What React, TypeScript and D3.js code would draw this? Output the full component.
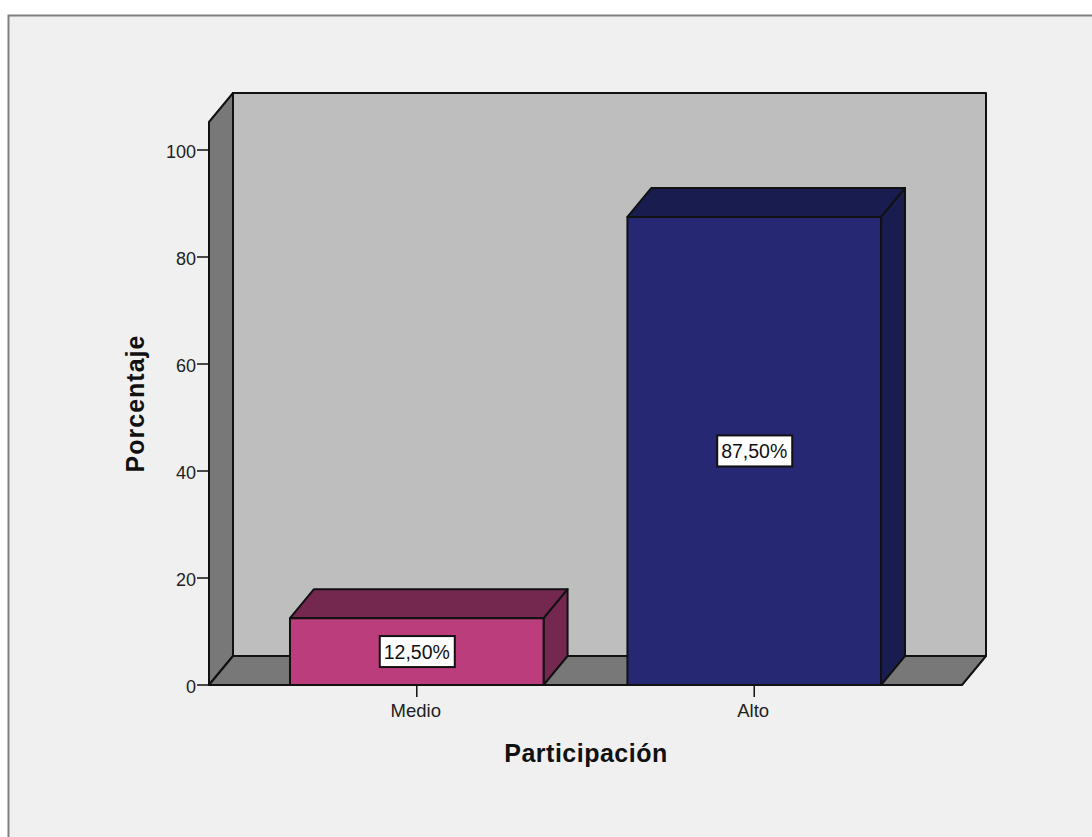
import React from "react";
import * as d3 from "d3";

const categories = ["Medio", "Alto"];
const values = [12.5, 87.5];
const valueLabels = ["12,50%", "87,50%"];
const yTicks = [0, 20, 40, 60, 80, 100];
const barFront = ["#bb3d7c", "#262873"];
const barDark = ["#74284f", "#191c4f"];
const xTitle = "Participación";
const yTitle = "Porcentaje";

const W = 1092, H = 837;
const left = 209, right = 962, floorY = 685, dx = 24, dy = 29, wallTop = 122;
const FONT = "'Liberation Sans', Arial, sans-serif";
const INK = "#111";

export default function App() {
  const y = d3.scaleLinear().domain([0, 100]).range([floorY, 150]);
  const x = d3.scaleBand<string>().domain(categories).range([left, right]).paddingInner(0.2485).paddingOuter(0.24);
  const poly = (pts: [number, number][]) => d3.line()(pts) + "Z";
  return (
    <svg width={W} height={H} viewBox={`0 0 ${W} ${H}`}
      style={{ position: "fixed", left: 0, top: 0, background: "#fff", display: "block" }}>
      <rect x={8} y={15} width={W - 8} height={H - 15} fill="#f0f0f0" />
      <path d={`M8.5 ${H}V15.5H${W}`} fill="none" stroke="#808080" strokeWidth={2} />
      <g stroke={INK} strokeWidth={2} strokeLinejoin="round">
        <rect x={left + dx} y={wallTop - dy} width={right - left} height={floorY - wallTop} fill="#bebebe" />
        <path d={poly([[left, floorY], [left + dx, floorY - dy], [left + dx, wallTop - dy], [left, wallTop]])} fill="#787878" />
        <path d={poly([[left, floorY], [left + dx, floorY - dy], [right + dx, floorY - dy], [right, floorY]])} fill="#787878" />
      </g>
      {categories.map((c, i) => {
        const x0 = x(c)!, x1 = x0 + x.bandwidth(), top = y(values[i]);
        return (
          <g key={c} stroke={INK} strokeWidth={2} strokeLinejoin="round">
            <path d={poly([[x1, top], [x1 + dx, top - dy], [x1 + dx, floorY - dy], [x1, floorY]])} fill={barDark[i]} />
            <path d={poly([[x0, top], [x0 + dx, top - dy], [x1 + dx, top - dy], [x1, top]])} fill={barDark[i]} />
            <rect x={x0} y={top} width={x.bandwidth()} height={floorY - top} fill={barFront[i]} />
          </g>
        );
      })}
      <line x1={left} x2={right} y1={floorY} y2={floorY} stroke={INK} strokeWidth={2} />
      {yTicks.map(t => (
        <g key={t}>
          <line x1={197} x2={left} y1={y(t)} y2={y(t)} stroke={INK} strokeWidth={1.5} />
          <text x={196} y={y(t) + 8} textAnchor="end" fontFamily={FONT} fontSize={18} fill="#222">{t}</text>
        </g>
      ))}
      {categories.map(c => {
        const cx = x(c)! + x.bandwidth() / 2;
        return (
          <g key={c}>
            <line x1={cx} x2={cx} y1={floorY} y2={697} stroke={INK} strokeWidth={1.5} />
            <text x={cx - 1} y={717} textAnchor="middle" fontFamily={FONT} fontSize={18.5} fill="#222">{c}</text>
          </g>
        );
      })}
      {categories.map((c, i) => {
        const cx = x(c)! + x.bandwidth() / 2;
        const cy = (y(values[i]) + floorY) / 2;
        return (
          <g key={c}>
            <rect x={cx - 37} y={cy - 15.5} width={75} height={31} fill="#fff" stroke={INK} strokeWidth={2} />
            <text x={cx} y={cy + 7} textAnchor="middle" fontFamily={FONT} fontSize={19.5} fill="#111">{valueLabels[i]}</text>
          </g>
        );
      })}
      <text x={586} y={762} textAnchor="middle" fontFamily={FONT} fontSize={25} fontWeight={700} fill="#111" letterSpacing={0.5}>{xTitle}</text>
      <text transform="translate(144,403.5) rotate(-90)" textAnchor="middle" fontFamily={FONT} fontSize={25} fontWeight={700} fill="#111" letterSpacing={1}>{yTitle}</text>
    </svg>
  );
}
